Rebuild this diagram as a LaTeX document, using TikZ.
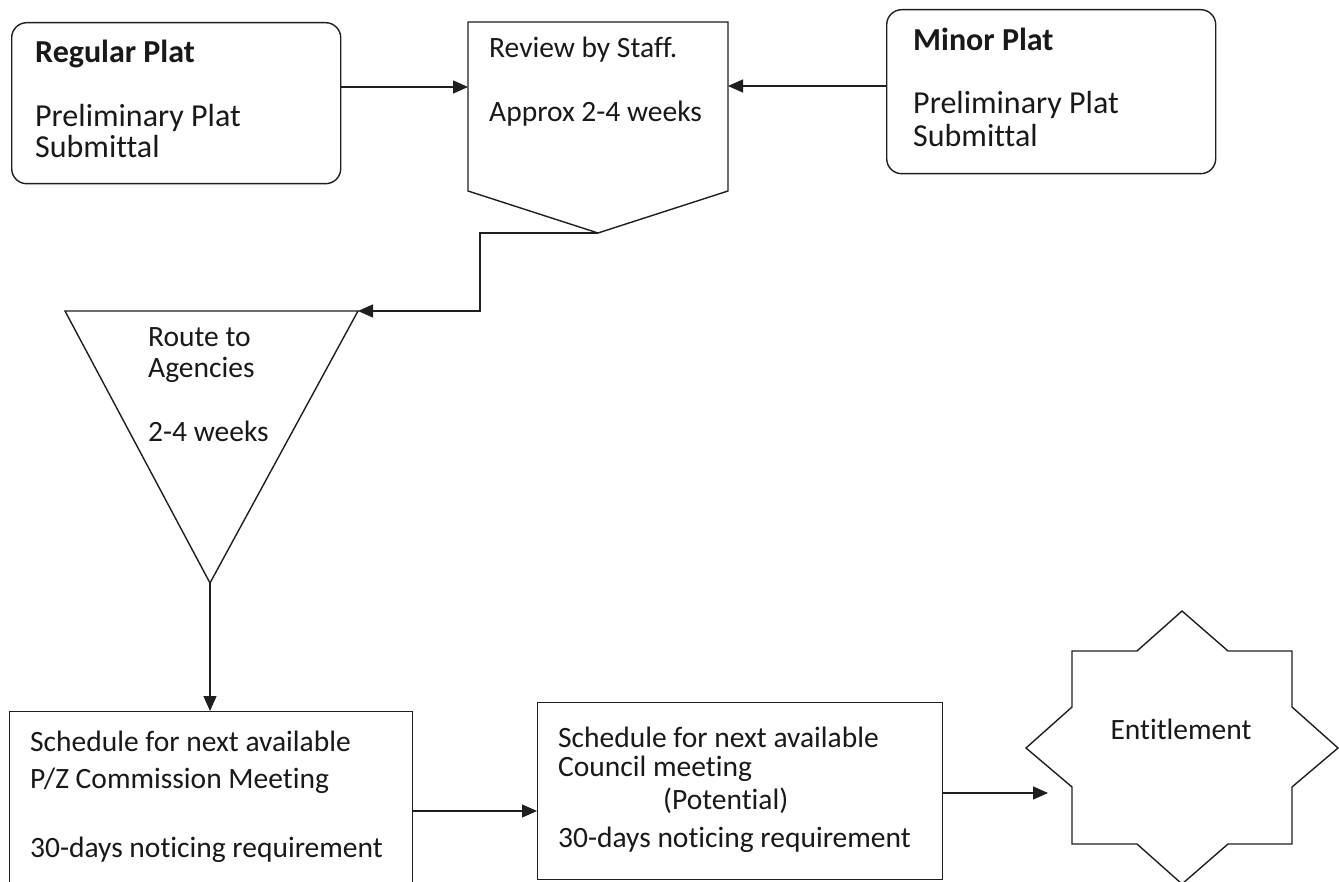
\documentclass[tikz,border=0pt]{standalone}
\usepackage{fontspec}
\setmainfont{Carlito}[Ligatures={NoCommon}]
\usetikzlibrary{arrows.meta}
\tikzset{
  shp/.style={draw=black!88, line width=1.4pt, fill=white},
  box/.style={shp, rectangle, inner sep=0pt, anchor=north west},
  rbox/.style={box, rounded corners=15pt},
  txt/.style={anchor=base west, inner sep=0pt, text=black!90, font=\fontsize{29.5}{35}\selectfont},
  bigtxt/.style={txt, font=\fontsize{32}{38}\selectfont},
  bigbold/.style={txt, font=\fontsize{32}{38}\selectfont\bfseries},
  conn/.style={draw=black!88, line width=1.4pt},
  arr/.style={conn, -{Triangle[length=15pt,width=13pt]}}
}
\begin{document}
\begin{tikzpicture}[x=1pt,y=-1pt]
\useasboundingbox (0,0) rectangle (1339,882);
\clip (0,0) rectangle (1339,882);
% boxes
\node[rbox, minimum width=329pt, minimum height=161pt] (reg) at (11,22) {};
\node[rbox, minimum width=329pt, minimum height=164pt] (minor) at (886,9) {};
\node[box, minimum width=403pt, minimum height=190pt] (pz) at (9,711) {};
\node[box, minimum width=405pt, minimum height=177pt] (council) at (537,702) {};
% review (off-page connector shape)
\draw[shp] (468,22) coordinate (rev-nw) -- (728,22) -- (728,191) -- (598,233) coordinate (rev-tip) -- (468,191) -- cycle;
\coordinate (rev-w) at (468,87);
\coordinate (rev-e) at (728,86);
% triangle
\draw[shp] (65,311) -- (358,311) coordinate (tri-ne) -- (210,583) coordinate (tri-apex) -- cycle;
% star
\draw[shp] (1072,651) -- (1137,651) -- (1182,611) -- (1228,651) -- (1292,651) -- (1292,707) -- (1338,748) -- (1292,787) -- (1292,844) -- (1228,844) -- (1182,884) -- (1137,844) -- (1072,844) -- (1072,787) -- (1026,748) coordinate (star-w) -- (1072,707) -- cycle;
\coordinate (star-in) at (1048,793);
% connector ports
\coordinate (reg-out) at (340,87);
\coordinate (minor-out) at (886,86);
\coordinate (pz-out) at (412,811);
\coordinate (cou-in) at (537,811);
\coordinate (cou-out) at (942,793);
\coordinate (bend1) at (480,233);
\coordinate (bend2) at (480,311);
% texts
\node[bigbold] (t1) at (35,63) {Regular Plat};
\node[bigtxt] (t2) at (35,127) {Preliminary Plat};
\node[bigtxt] (t3) at (35,158) {Submittal};
\node[bigbold] (t4) at (913,51) {Minor Plat};
\node[bigtxt] (t5) at (913,114) {Preliminary Plat};
\node[bigtxt] (t6) at (913,147) {Submittal};
\node[txt] (t7) at (489,58) {Review by Staff.};
\node[txt] (t8) at (489,122) {Approx 2-4 weeks};
\node[txt] (t9) at (148,347) {Route to};
\node[txt] (t10) at (148,378) {Agencies};
\node[txt] (t11) at (148,442) {2-4 weeks};
\node[txt] (t12) at (30,751) {Schedule for next available};
\node[txt] (t13) at (30,788) {P/Z Commission Meeting};
\node[txt] (t14) at (30,857) {30-days noticing requirement};
\node[txt] (t15) at (558,747) {Schedule for next available};
\node[txt] (t16) at (558,776) {Council meeting};
\node[txt] (t17) at (663,809) {(Potential)};
\node[txt] (t18) at (558,847) {30-days noticing requirement};
\node[txt, anchor=base] (t19) at (1181,739) {Entitlement};
% connectors
\draw[arr] (reg-out) -- (rev-w);
\draw[arr] (minor-out) -- (rev-e);
\draw[arr] (rev-tip) -- (bend1) -- (bend2) -- (tri-ne);
\draw[arr] (tri-apex) -- (pz.north -| tri-apex);
\draw[arr] (pz-out) -- (cou-in);
\draw[arr] (cou-out) -- (star-in);
\end{tikzpicture}
\end{document}
